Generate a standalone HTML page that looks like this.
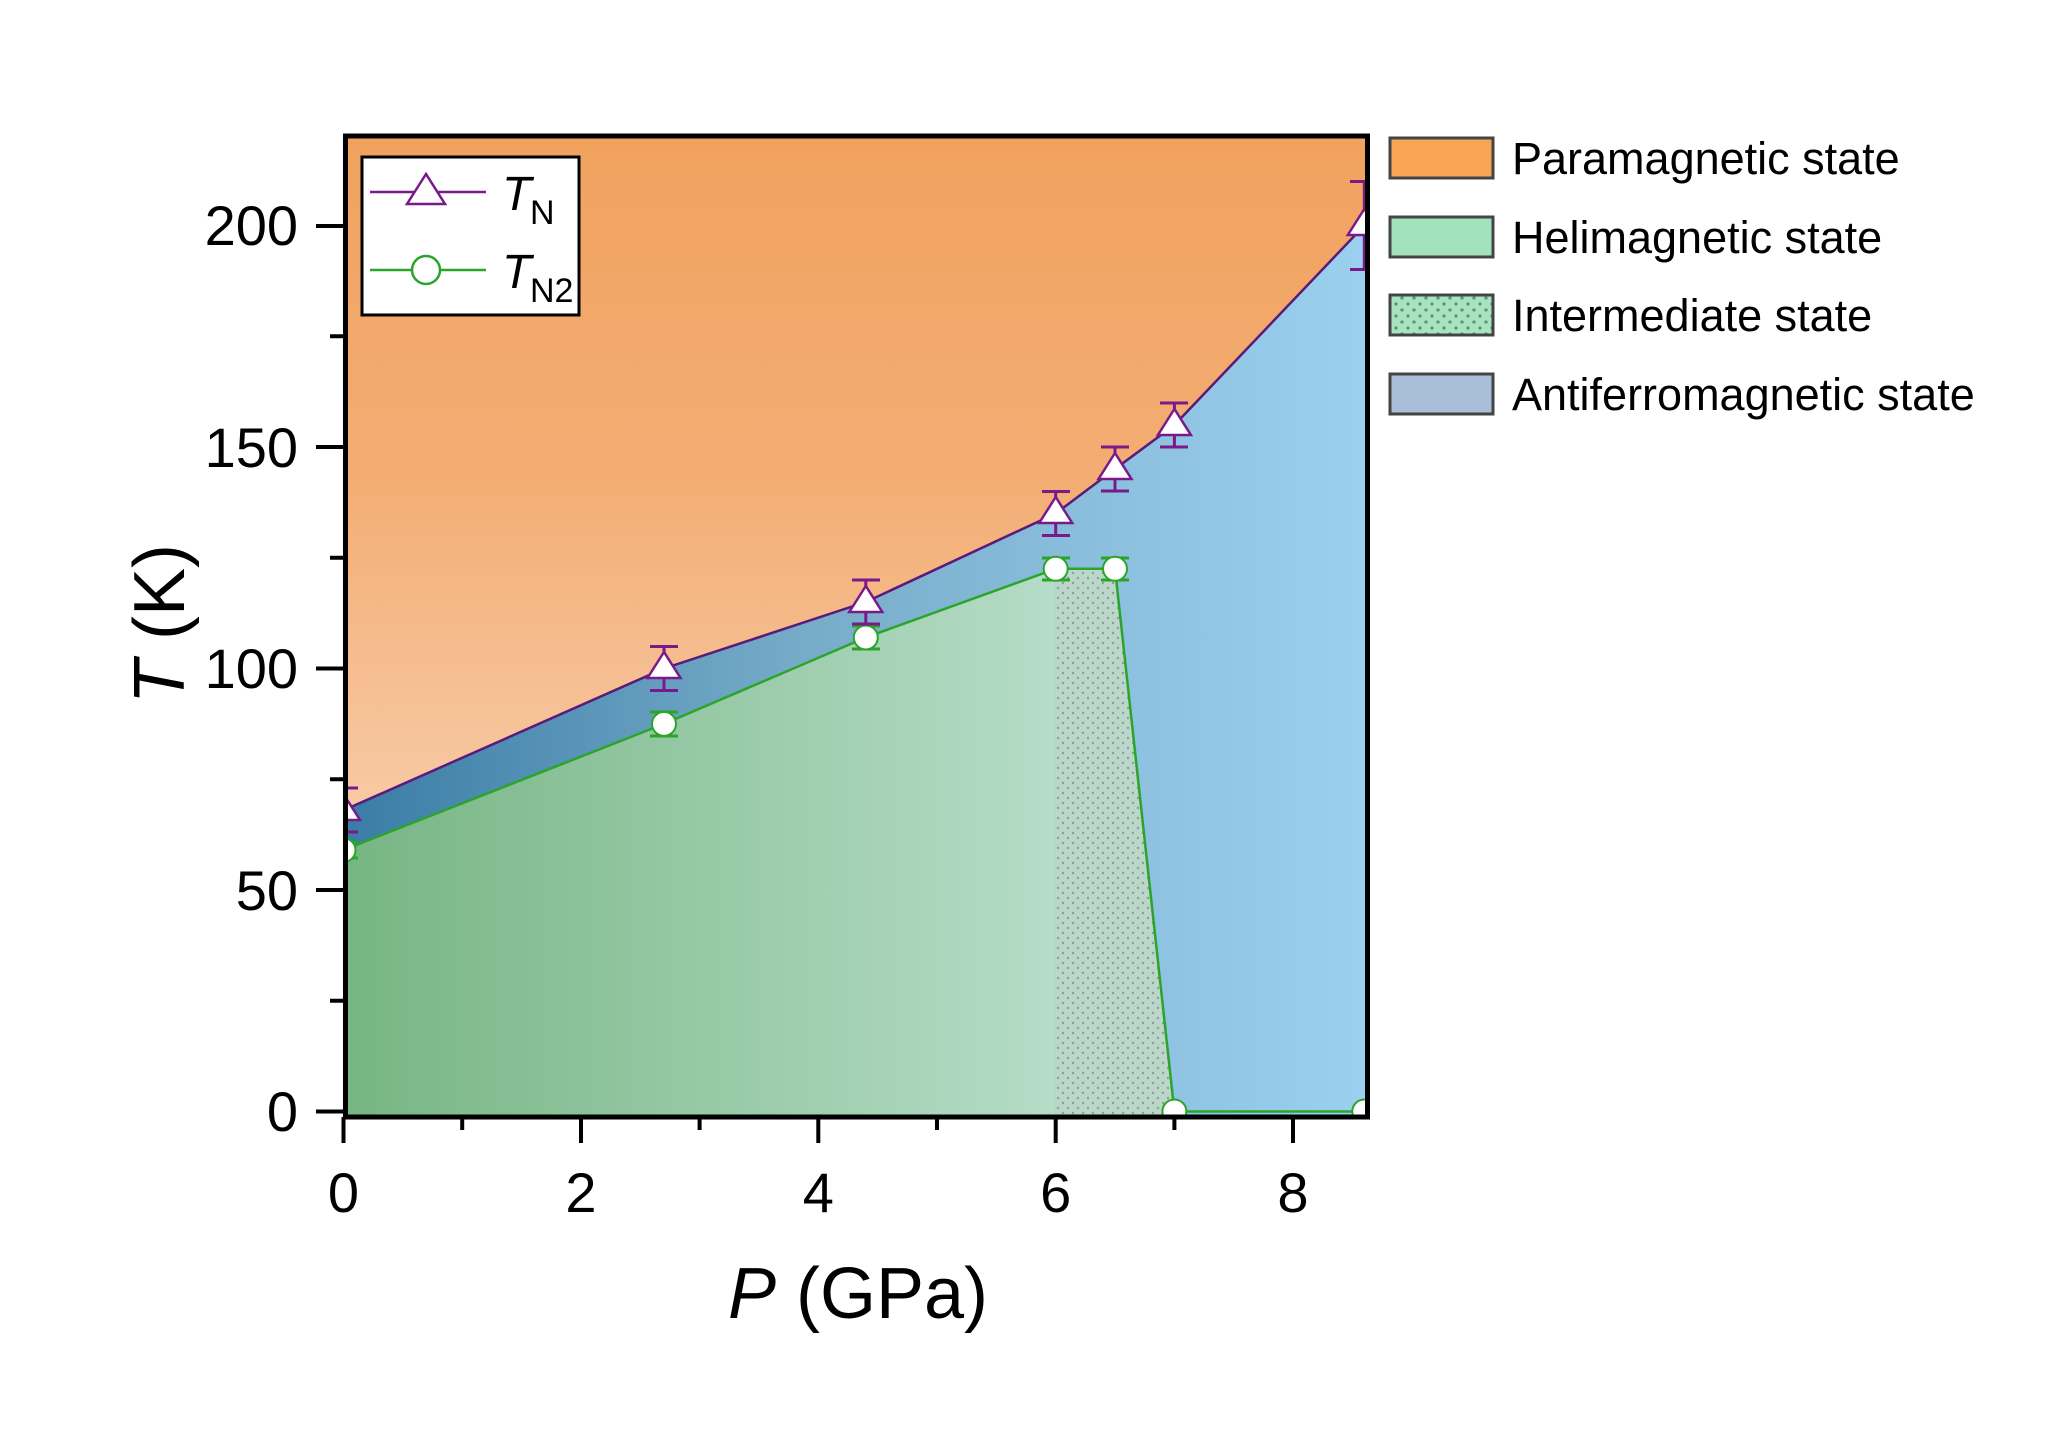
<!DOCTYPE html>
<html><head><meta charset="utf-8"><style>html,body{margin:0;padding:0;background:#fff}svg{display:block}</style></head>
<body>
<svg width="2048" height="1449" viewBox="0 0 2048 1449" xmlns="http://www.w3.org/2000/svg" font-family="Liberation Sans, Arial, sans-serif">
<defs>
<linearGradient id="gO" x1="0" y1="0" x2="0" y2="1"><stop offset="0" stop-color="#f1a25e"/><stop offset="0.35" stop-color="#f3ad74"/><stop offset="0.75" stop-color="#f8cfae"/><stop offset="1" stop-color="#fbe3d0"/></linearGradient>
<linearGradient id="gB" gradientUnits="userSpaceOnUse" x1="343" y1="0" x2="1368" y2="0"><stop offset="0" stop-color="#3a7ca6"/><stop offset="0.45" stop-color="#77acc9"/><stop offset="1" stop-color="#9cd0ef"/></linearGradient>
<linearGradient id="gG" gradientUnits="userSpaceOnUse" x1="343" y1="0" x2="1056" y2="0"><stop offset="0" stop-color="#77b583"/><stop offset="1" stop-color="#b5dcc7"/></linearGradient>
<pattern id="dots" width="10" height="10" patternUnits="userSpaceOnUse"><rect width="10" height="10" fill="#bad7c9"/><circle cx="3" cy="3" r="1.2" fill="#8c9e95"/><circle cx="8" cy="8" r="1.2" fill="#8c9e95"/></pattern>
<pattern id="dots2" width="12" height="12" patternUnits="userSpaceOnUse"><rect width="12" height="12" fill="#a8e3bf"/><circle cx="4" cy="4" r="1.6" fill="#5f8f73"/><circle cx="10" cy="10" r="1.6" fill="#5f8f73"/></pattern>
<clipPath id="cp"><rect x="343.5" y="136" width="1024" height="981"/></clipPath>
</defs>
<g clip-path="url(#cp)">
<rect x="343.5" y="136" width="1024" height="981" fill="url(#gO)"/>
<polygon points="343.5,810.3 664,668.5 865.8,602 1055.7,513.5 1115,469 1174.4,425 1364.3,225.5 1370,225.5 1370,1120 343.5,1120" fill="url(#gB)"/>
<polygon points="343.5,850.1 664,723.9 865.8,637.5 1055.7,568.8 1055.7,1120 343.5,1120" fill="url(#gG)"/>
<polygon points="1055.7,568.8 1115,568.8 1174.4,1111.5 1174.4,1120 1055.7,1120" fill="url(#dots)"/>
<polyline points="343.5,810.3 664,668.5 865.8,602 1055.7,513.5 1115,469 1174.4,425 1364.3,225.5" fill="none" stroke="#5a1a7a" stroke-width="2.5"/>
<polyline points="343.5,850.1 664,723.9 865.8,637.5 1055.7,568.8 1115,568.8 1174.4,1111.5 1364.3,1111.5" fill="none" stroke="#2aa52a" stroke-width="2.5"/>
<g stroke="#2aa52a" stroke-width="3" fill="none">
<path d="M664,712v24M650,712h28M650,736h28"/><path d="M865.8,626v23M852,626h28M852,649h28"/><path d="M1055.7,558v22M1042,558h28M1042,580h28"/><path d="M1115,558v22M1101,558h28M1101,580h28"/><path d="M343.5,842v16M330,842h28M330,858h28"/>
</g>
<g fill="#fff" stroke="#2aa52a" stroke-width="2">
<circle cx="664" cy="723.9" r="12"/><circle cx="865.8" cy="637.5" r="12"/><circle cx="1055.7" cy="568.8" r="12"/><circle cx="1115" cy="568.8" r="12"/><circle cx="1174.4" cy="1111.5" r="12"/><circle cx="1364.3" cy="1111.5" r="12"/><circle cx="343.5" cy="850.1" r="12"/>
</g>
<g stroke="#7a1a8a" stroke-width="3" fill="none">
<path d="M343.5,788v44M330,788h28M330,832h28"/><path d="M664,646.5v44M650,646.5h28M650,690.5h28"/><path d="M865.8,580v44M852,580h28M852,624h28"/><path d="M1055.7,491.5v44M1042,491.5h28M1042,535.5h28"/><path d="M1115,447v44M1101,447h28M1101,491h28"/><path d="M1174.4,403v44M1160,403h28M1160,447h28"/><path d="M1364.3,181.5v88M1350,181.5h28M1350,269.5h28"/>
</g>
<g fill="#fff" stroke="#7a1a8a" stroke-width="2.5">
<polygon points="343.5,794 327,820 360,820"/><polygon points="664,652 647.5,678 680.5,678"/><polygon points="865.8,586 849.3,612 882.3,612"/><polygon points="1055.7,497 1039.2,523 1072.2,523"/><polygon points="1115,453 1098.5,479 1131.5,479"/><polygon points="1174.4,409 1157.9,435 1190.9,435"/><polygon points="1364.3,209 1347.8,235 1380.8,235"/>
</g>
</g>
<rect x="345.5" y="136" width="1022" height="981" fill="none" stroke="#000" stroke-width="5"/>
<g stroke="#000" stroke-width="4">
<path d="M343,1111.5h-27M343,890h-27M343,668.5h-27M343,447h-27M343,226h-27"/>
<path d="M343,1000.7h-13M343,779.2h-13M343,557.7h-13M343,336.2h-13"/>
<path d="M343.5,1117v26M581,1117v26M818.3,1117v26M1055.7,1117v26M1293,1117v26"/>
<path d="M462.2,1117v13M699.6,1117v13M937,1117v13M1174.4,1117v13"/>
</g>
<g font-size="56" fill="#000" text-anchor="end">
<text x="298" y="1131">0</text><text x="298" y="910">50</text><text x="298" y="688">100</text><text x="298" y="467">150</text><text x="298" y="245">200</text>
</g>
<g font-size="56" fill="#000" text-anchor="middle">
<text x="343.5" y="1212">0</text><text x="581" y="1212">2</text><text x="818.3" y="1212">4</text><text x="1055.7" y="1212">6</text><text x="1293" y="1212">8</text>
</g>
<text x="858" y="1318" font-size="72" text-anchor="middle"><tspan font-style="italic">P</tspan> (GPa)</text>
<text transform="translate(184,624) rotate(-90)" font-size="72" text-anchor="middle"><tspan font-style="italic">T</tspan> (K)</text>
<rect x="362" y="157" width="217" height="158" fill="#fff" stroke="#000" stroke-width="3"/>
<path d="M370,192h116" stroke="#7a1a8a" stroke-width="2.5"/>
<polygon points="426,174 407,204 445,204" fill="#fff" stroke="#7a1a8a" stroke-width="2.5"/>
<text x="502" y="210" font-size="48" font-style="italic">T</text><text x="530" y="224" font-size="34">N</text>
<path d="M370,270h116" stroke="#2aa52a" stroke-width="2.5"/>
<circle cx="426" cy="270" r="14" fill="#fff" stroke="#2aa52a" stroke-width="2.5"/>
<text x="502" y="288" font-size="48" font-style="italic">T</text><text x="530" y="302" font-size="34">N2</text>
<g stroke="#444" stroke-width="3">
<rect x="1390" y="138" width="103" height="40" fill="#f8a656"/>
<rect x="1390" y="217" width="103" height="40" fill="#a2e2bc"/>
<rect x="1390" y="295" width="103" height="40" fill="url(#dots2)"/>
<rect x="1390" y="374" width="103" height="40" fill="#a9bfd9"/>
</g>
<g font-size="45" fill="#000">
<text x="1512" y="174">Paramagnetic state</text>
<text x="1512" y="253">Helimagnetic state</text>
<text x="1512" y="331">Intermediate state</text>
<text x="1512" y="410">Antiferromagnetic state</text>
</g>
</svg>
</body></html>
